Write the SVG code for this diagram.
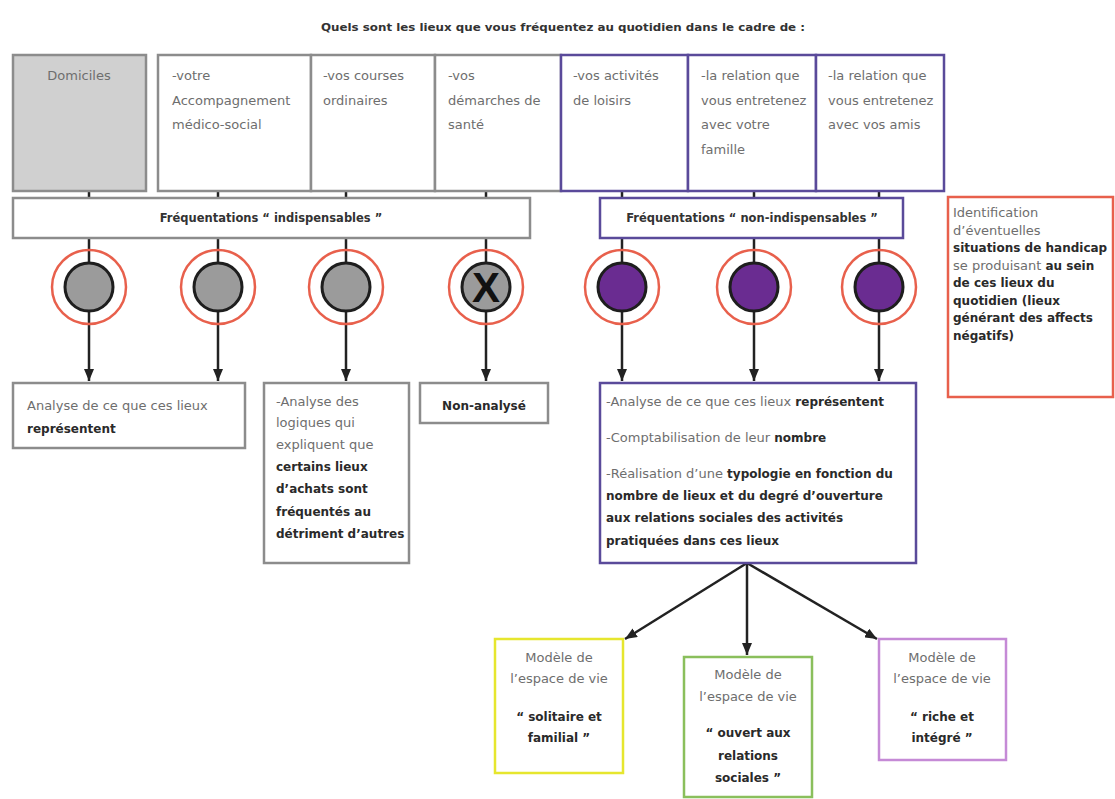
<svg xmlns="http://www.w3.org/2000/svg" width="1115" height="799" viewBox="0 0 1115 799">
<style>
text{font-family:"DejaVu Sans","Liberation Sans",sans-serif;font-size:13px;fill:#6e6e6e}
.b{font-weight:bold;font-size:12px;fill:#2a2a2a}
.t{font-weight:bold;font-size:11px;fill:#333}
.fq{font-weight:bold;font-size:11.5px;fill:#333}
.gbox{fill:#fff;stroke:#8c8c8c;stroke-width:2.5}
.pbox{fill:#fff;stroke:#5a4a9a;stroke-width:2.5}
.ring{fill:none;stroke:#e8604c;stroke-width:2.5}
.gc{fill:#9b9b9b;stroke:#1e1e1e;stroke-width:3}
.pc{fill:#6a2c91;stroke:#1e1e1e;stroke-width:3}
.ln{stroke:#222;stroke-width:2.5;fill:none}
.ar{marker-end:url(#ah)}
</style>
<defs>
<marker id="ah" markerUnits="userSpaceOnUse" viewBox="0 0 12 10" markerWidth="12" markerHeight="10" refX="12" refY="5" orient="auto">
<path d="M0,0 L12,5 L0,10 z" fill="#222"/>
</marker>
</defs>
<rect width="1115" height="799" fill="#fff"/>
<text class="t" x="321" y="31" textLength="484" lengthAdjust="spacingAndGlyphs">Quels sont les lieux que vous fréquentez au quotidien dans le cadre de :</text>

<g id="connectors">
<line class="ln" x1="89" y1="191" x2="89" y2="198"/>
<line class="ln" x1="218" y1="191" x2="218" y2="198"/>
<line class="ln" x1="346" y1="191" x2="346" y2="198"/>
<line class="ln" x1="486" y1="191" x2="486" y2="198"/>
<line class="ln" x1="622" y1="191" x2="622" y2="198"/>
<line class="ln" x1="754" y1="191" x2="754" y2="198"/>
<line class="ln" x1="879" y1="191" x2="879" y2="198"/>
<line class="ln ar" x1="89" y1="238" x2="89" y2="381"/>
<line class="ln ar" x1="218" y1="238" x2="218" y2="381"/>
<line class="ln ar" x1="346" y1="238" x2="346" y2="381"/>
<line class="ln ar" x1="486" y1="238" x2="486" y2="381"/>
<line class="ln ar" x1="622" y1="238" x2="622" y2="381"/>
<line class="ln ar" x1="754" y1="238" x2="754" y2="381"/>
<line class="ln ar" x1="879" y1="238" x2="879" y2="381"/>
<line class="ln ar" x1="747" y1="563" x2="625" y2="639"/>
<line class="ln ar" x1="747" y1="563" x2="747" y2="655"/>
<line class="ln ar" x1="747" y1="563" x2="877" y2="639"/>
</g>

<g id="domiciles">
<rect x="13" y="55" width="133" height="136" fill="#d0d0d0" stroke="#8c8c8c" stroke-width="2.5"/>
<text x="79" y="80" text-anchor="middle">Domiciles</text>
</g>
<g id="accompagnement">
<rect class="gbox" x="158" y="55" width="153" height="136"/>
<text x="172" y="80">-votre</text>
<text x="172" y="104.5">Accompagnement</text>
<text x="172" y="129">médico-social</text>
</g>
<g id="courses">
<rect class="gbox" x="311" y="55" width="124" height="136"/>
<text x="323" y="80">-vos courses</text>
<text x="323" y="104.5">ordinaires</text>
</g>
<g id="sante">
<rect class="gbox" x="435" y="55" width="126" height="136"/>
<text x="448" y="80">-vos</text>
<text x="448" y="104.5">démarches de</text>
<text x="448" y="129">santé</text>
</g>
<g id="loisirs">
<rect class="pbox" x="561" y="55" width="127" height="136"/>
<text x="573" y="80">-vos activités</text>
<text x="573" y="104.5">de loisirs</text>
</g>
<g id="famille">
<rect class="pbox" x="688" y="55" width="128" height="136"/>
<text x="701" y="80">-la relation que</text>
<text x="701" y="104.5">vous entretenez</text>
<text x="701" y="129">avec votre</text>
<text x="701" y="153.5">famille</text>
</g>
<g id="amis">
<rect class="pbox" x="816" y="55" width="128" height="136"/>
<text x="828" y="80">-la relation que</text>
<text x="828" y="104.5">vous entretenez</text>
<text x="828" y="129">avec vos amis</text>
</g>

<g id="freq-indispensables">
<rect class="gbox" x="13" y="198" width="517" height="40"/>
<text class="fq" x="271" y="222" text-anchor="middle">Fréquentations “ indispensables ”</text>
</g>
<g id="freq-non-indispensables">
<rect class="pbox" x="600" y="198" width="303" height="40"/>
<text class="fq" x="752" y="222" text-anchor="middle">Fréquentations “ non-indispensables ”</text>
</g>

<g id="c1"><circle class="ring" cx="89" cy="287" r="37"/><circle class="gc" cx="89" cy="287" r="24"/></g>
<g id="c2"><circle class="ring" cx="218" cy="287" r="37"/><circle class="gc" cx="218" cy="287" r="24"/></g>
<g id="c3"><circle class="ring" cx="346" cy="287" r="37"/><circle class="gc" cx="346" cy="287" r="24"/></g>
<g id="c4"><circle class="ring" cx="486" cy="287" r="37"/><circle class="gc" cx="486" cy="287" r="24"/>
<text x="486" y="302" text-anchor="middle" style="font-family:'Liberation Sans',sans-serif;font-weight:bold;font-size:42px;fill:#111">X</text></g>
<g id="c5"><circle class="ring" cx="622" cy="287" r="37"/><circle class="pc" cx="622" cy="287" r="24"/></g>
<g id="c6"><circle class="ring" cx="754" cy="287" r="37"/><circle class="pc" cx="754" cy="287" r="24"/></g>
<g id="c7"><circle class="ring" cx="879" cy="287" r="37"/><circle class="pc" cx="879" cy="287" r="24"/></g>

<g id="identification">
<rect x="948" y="197" width="165" height="200" fill="#fff" stroke="#e8604c" stroke-width="2.5"/>
<text x="953" y="217">Identification</text>
<text x="953" y="234.5">d’éventuelles</text>
<text class="b" x="953" y="252">situations de handicap</text>
<text x="953" y="269.5">se produisant <tspan class="b">au sein</tspan></text>
<text class="b" x="953" y="287">de ces lieux du</text>
<text class="b" x="953" y="304.5">quotidien (lieux</text>
<text class="b" x="953" y="322">générant des affects</text>
<text class="b" x="953" y="339.5">négatifs)</text>
</g>

<g id="analyse-domicile">
<rect class="gbox" x="13" y="383" width="232" height="65"/>
<text x="27" y="410">Analyse de ce que ces lieux</text>
<text class="b" x="27" y="433">représentent</text>
</g>
<g id="analyse-courses">
<rect class="gbox" x="264" y="383" width="145" height="180"/>
<text x="276" y="406">-Analyse des</text>
<text x="276" y="427">logiques qui</text>
<text x="276" y="449">expliquent que</text>
<text class="b" x="276" y="471">certains lieux</text>
<text class="b" x="276" y="493">d’achats sont</text>
<text class="b" x="276" y="516">fréquentés au</text>
<text class="b" x="276" y="538">détriment d’autres</text>
</g>
<g id="non-analyse">
<rect class="gbox" x="420" y="383" width="128" height="40"/>
<text class="b" x="484" y="410" text-anchor="middle">Non-analysé</text>
</g>
<g id="analyse-non-indispensables">
<rect class="pbox" x="600" y="383" width="316" height="180"/>
<text x="606" y="406">-Analyse de ce que ces lieux <tspan class="b">représentent</tspan></text>
<text x="606" y="442">-Comptabilisation de leur <tspan class="b">nombre</tspan></text>
<text x="606" y="478">-Réalisation d’une <tspan class="b">typologie en fonction du</tspan></text>
<text class="b" x="606" y="500">nombre de lieux et du degré d’ouverture</text>
<text class="b" x="606" y="522">aux relations sociales des activités</text>
<text class="b" x="606" y="545">pratiquées dans ces lieux</text>
</g>

<g id="modele-solitaire">
<rect x="495" y="639" width="128" height="134" fill="#fff" stroke="#e6e62e" stroke-width="2.5"/>
<text x="559" y="662" text-anchor="middle">Modèle de</text>
<text x="559" y="683" text-anchor="middle">l’espace de vie</text>
<text class="b" x="559" y="721" text-anchor="middle">“ solitaire et</text>
<text class="b" x="559" y="742" text-anchor="middle">familial ”</text>
</g>
<g id="modele-ouvert">
<rect x="684" y="657" width="128" height="140" fill="#fff" stroke="#8abf5c" stroke-width="2.5"/>
<text x="748" y="679" text-anchor="middle">Modèle de</text>
<text x="748" y="701" text-anchor="middle">l’espace de vie</text>
<text class="b" x="748" y="737" text-anchor="middle">“ ouvert aux</text>
<text class="b" x="748" y="760" text-anchor="middle">relations</text>
<text class="b" x="748" y="782" text-anchor="middle">sociales ”</text>
</g>
<g id="modele-riche">
<rect x="879" y="639" width="127" height="121" fill="#fff" stroke="#c58ad6" stroke-width="2.5"/>
<text x="942" y="662" text-anchor="middle">Modèle de</text>
<text x="942" y="683" text-anchor="middle">l’espace de vie</text>
<text class="b" x="942" y="721" text-anchor="middle">“ riche et</text>
<text class="b" x="942" y="742" text-anchor="middle">intégré ”</text>
</g>
</svg>
